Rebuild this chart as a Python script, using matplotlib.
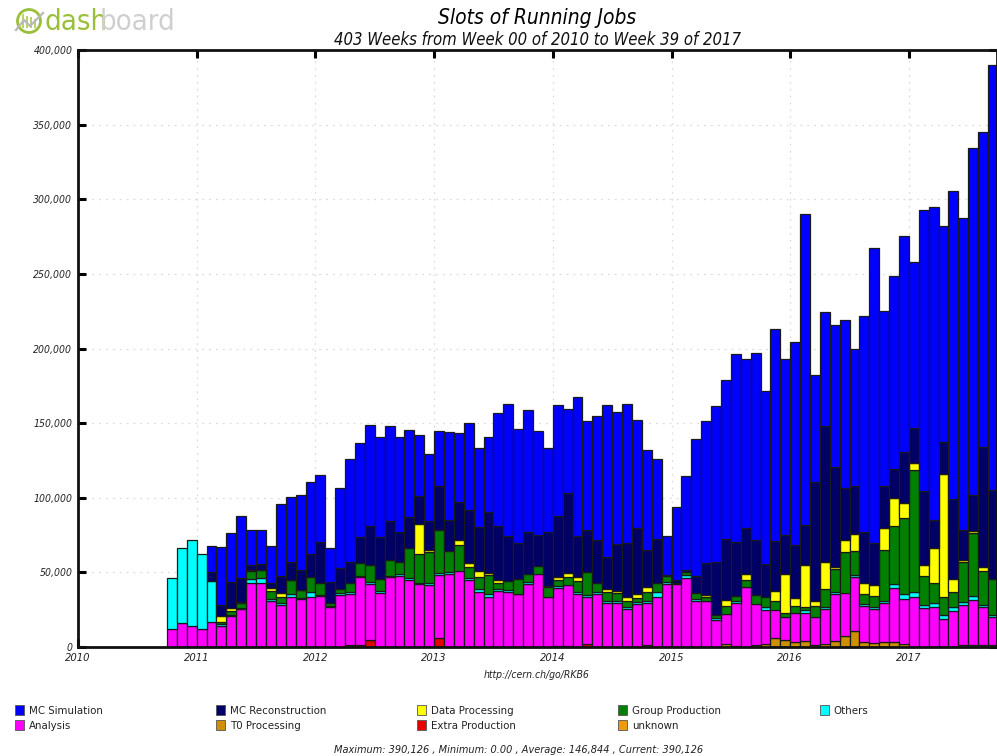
import numpy as np
import matplotlib
matplotlib.use("Agg")
import matplotlib.pyplot as plt
from matplotlib.patches import Patch, Circle, Rectangle

K = 1000.0
first_year = 2010.75
n_bars = 84

sim = [0,0,0,0,17.9,39.3,33.3,41.5,23.7,23,25,48.2,43.6,50.2,48.2,45.4,23.2,53.6,69.5,63.4,67.7,67.4,63.9,63.5,58.1,40.9,45.1,36.7,58.7,46.3,58.5,52.9,50.1,75.9,88.2,76.6,82.2,69.9,56.1,74.1,56.8,93.6,73,83.3,101.9,88.7,93.1,72.2,67.4,54.1,25.7,48.9,63.5,92.1,95.2,104.3,106.2,125.9,113.2,125.5,115.7,142,117.7,136,208.8,71.7,76.2,95.3,112.6,92.3,144.2,198.2,117,129.8,144.5,111.3,188.1,209.7,144.2,206.4,209,232.5,210.8,285]
reco = [0,0,0,0,5.8,6.9,17.2,16.1,3.6,4.2,3.2,11.8,11.7,13.1,15.2,27,13.6,13.8,13.6,17.5,26.6,28.2,26.1,20.1,20.8,18.3,19.6,29.8,20.6,25.2,35.7,29.3,40.8,36.4,30.2,24.2,27.9,21,35.9,41.1,53.5,27.2,28.2,28.8,21.1,31.5,35.8,44.4,24.7,29,1.1,1.8,1.1,11.2,21.2,35.3,41.2,35.8,31.4,36.8,22.3,33.5,26.1,35.1,26.8,79.3,91.3,67,34.8,32.1,34.2,27.6,28.4,19.2,34.7,23.4,49.8,19,21.9,53.6,20.1,23.7,80.6,59.4]
data_proc = [0,0,0,0,0,4.5,1.8,.2,.2,.1,2,2.7,.1,.1,0,0,0,0,0,0,0,0,0,0,0,20.5,1.4,0,0,3.4,2.7,4.2,1.1,2,0,0,0,0,1.1,2,2.7,2.9,0,0,2.3,1.3,3.1,2.3,3.6,0,0,0,0,0,1.6,0,3.8,0,4,0,0,6.7,26.3,5.3,27.7,3.3,17.6,1.4,8.5,11.4,7.6,7.6,14.9,19,9.8,4.7,6.9,23,82.4,8.5,1.6,1.8,2.7,0]
group = [0,0,0,0,0,1.1,2.9,3.8,5.6,5.2,5.3,3.8,9.6,5.2,10.3,8.5,2.5,2.9,6.1,8.5,11.2,7.6,10.8,7.8,20.1,19,20.3,28.4,14,17.2,7,8.1,13.2,3.8,6,9.6,5.4,5.1,6.3,3.6,4.9,7,15.2,5.7,5.6,5.2,3.6,2.6,5.6,6.3,3.8,.5,2.2,4,2.2,2,5.1,3.6,4.2,5.6,6.5,5.8,2.7,5.1,2.2,7.4,12.1,15.2,27,15.6,6.5,7.4,33.8,38.4,51.1,82.2,19.7,13.6,11.6,10.2,26.3,42.2,22.3,23.9]
others = [34.6,50.5,57.4,50.2,27.2,1.6,.4,.4,2.4,3.1,1.2,1.4,1.6,1.1,2.9,.7,.4,1.4,1.7,.6,1.1,1.7,.6,1.3,1.7,1.1,1.8,1.6,1.4,0,1.7,1.6,2,1.6,1.6,.4,1.1,0,0,1.4,0,1.7,1.5,1.7,1.3,1.3,1.8,1.4,1.3,3.5,1.1,0,1.6,1.3,0,1.6,0,1.3,0,0,1.8,0,0,0,1.8,0,1.8,1.5,0,1.8,1.5,1.6,1.3,2.7,2.9,2.9,2.2,2.7,2.9,2.7,2,2.2,1.6,1.4]
analysis = [11.8,16,14,11.8,17,13.8,21,25.5,43.1,43.1,31,28.1,33.7,31.9,33.7,33.9,26.8,34.6,34.2,45.8,37.7,36,46.9,47.8,44.7,42,41.3,42.2,49.1,51.1,44.7,37,33.3,37.3,36.6,35.3,42.4,48.9,33.7,38.7,40.8,35.3,31.3,35.3,29.7,29.7,25.2,29,28.6,33.3,42.4,42.4,46.4,31,31,18.1,20.5,28.6,40.2,27.9,23.2,18.8,15.2,19.5,19.2,19.2,23.4,31.5,29,36.2,24.4,22.7,26.6,36.6,30.6,33.7,25.9,26.8,18.8,23.9,27.3,30.6,25.7,19]
extra = [0]*18 + [1.1,1.1,4.7] + [0]*6 + [6] + [0]*11 + [1,1,0,2] + [0]*41
t0 = [0]*48 + [1.1] + [0]*7 + [1.8,.9,.2,1.1,1.8,6,4.7,3.1,3.8,1.1,1.8,3.8,7.4,10.5,3.1,2.5,3.1,3.1,1.8] + [0]*5 + [1.1,1.1,1.1,1.3]
unknown = [0]*n_bars

# bottom-to-top drawing order
series = [
    ("T0 Processing", t0, "#cc9000"),
    ("Extra Production", extra, "#e60000"),
    ("unknown", unknown, "#f09a10"),
    ("Analysis", analysis, "#ff00ff"),
    ("Others", others, "#00ffff"),
    ("Group Production", group, "#008000"),
    ("Data Processing", data_proc, "#ffff00"),
    ("MC Reconstruction", reco, "#000066"),
    ("MC Simulation", sim, "#0000ff"),
]
colors = {name: c for name, _, c in series}

legend_cols = [
    ["MC Simulation", "Analysis"],
    ["MC Reconstruction", "T0 Processing"],
    ["Data Processing", "Extra Production"],
    ["Group Production", "unknown"],
    ["Others"],
]
legend_x_px = [15, 216, 417, 618, 820]

year_ticks = list(range(2010, 2018))
y_ticks = list(range(0, 400001, 50000))

W, H = 997, 756
fig = plt.figure(figsize=(W / 100, H / 100), dpi=100, facecolor="white")
ax = fig.add_axes([78 / W, (H - 647) / H, 919 / W, 597 / H])

font = dict(family="DejaVu Sans", style="oblique", stretch="condensed")

x = first_year + np.arange(n_bars) / 12
width = 1 / 12
bottom = np.zeros(n_bars)
for name, vals, col in series:
    v = np.asarray(vals, dtype=float) * K
    assert len(v) == n_bars, name
    m = v > 0
    if m.any():
        ax.bar(x[m], v[m], width=width, bottom=bottom[m], align="edge", color=col,
               edgecolor="#1a1a1a", linewidth=0.9, zorder=3)
    bottom += v

ax.set_xlim(2010, 2010 + 919 / 118.7)
ax.set_ylim(0, 400000)
ax.set_xticks(year_ticks)
ax.set_xticklabels([str(y) for y in year_ticks], fontsize=8, color="#222222", **font)
ax.set_yticks(y_ticks)
ax.set_yticklabels([f"{y:,}" for y in y_ticks], fontsize=7.5, color="#222222", **font)
ax.tick_params(axis="both", which="major", direction="in", length=6, width=2.2,
               top=True, right=True, color="black", pad=4, zorder=5)
ax.grid(True, linestyle=(0, (1.5, 4)), color="#dddddd", linewidth=0.9, zorder=0)
ax.set_axisbelow(False)
for g in ax.get_xgridlines() + ax.get_ygridlines():
    g.set_zorder(0.5)
for s in ax.spines.values():
    s.set_linewidth(2.0)
    s.set_color("#111111")
    s.set_zorder(6)

def px(xp, yp):
    return xp / W, 1 - yp / H

fig.text(*px(537, 18), "Slots of Running Jobs", ha="center", va="center", fontsize=15, color="black",
         family="DejaVu Sans", style="oblique", stretch="condensed")
fig.text(*px(537, 40), "403 Weeks from Week 00 of 2010 to Week 39 of 2017", ha="center", va="center",
         fontsize=12, color="#111111", **font)
fig.text(*px(537, 675), "http://cern.ch/go/RKB6", ha="center", va="center", fontsize=7.5, color="#222222", **font)
fig.text(*px(519, 750), "Maximum: 390,126 , Minimum: 0.00 , Average: 146,844 , Current: 390,126",
         ha="center", va="center", fontsize=7.8, color="#222222", **font)

for col_names, xp in zip(legend_cols, legend_x_px):
    handles = [Patch(facecolor=colors[n], edgecolor="#555555", linewidth=0.6) for n in col_names]
    fig.legend(handles, col_names, loc="upper left", bbox_to_anchor=px(xp, 705), frameon=False,
               fontsize=8.2, handlelength=0.8, handleheight=0.95, handletextpad=0.4, labelspacing=0.36,
               borderpad=0, borderaxespad=0, prop=dict(family="DejaVu Sans", stretch="condensed", size=8.2),
               labelcolor="#222222")

# dashboard logo
logo = fig.add_axes([0, 0, 1, 1], zorder=-1)
logo.set_xlim(0, W)
logo.set_ylim(H, 0)
logo.axis("off")
logo.add_patch(Circle((29, 21), 11.5, fill=False, edgecolor="#9abf3a", linewidth=2))
for bx, bh in zip([23, 27, 31, 35], ["|"] * 4):
    logo.add_patch(Rectangle((bx - 1, 14 + (bx - 23) * 0.4), 2, 14 - (bx - 23) * 0.4, color="#b5d46a", linewidth=0))
logo.plot([16, 24, 30, 43], [30, 20, 26, 13], color="#b8b8b8", linewidth=1.6)
logo.text(44, 22, "dash", fontsize=21, color="#9abf3a", family="DejaVu Sans", ha="left", va="center", stretch="condensed")
logo.text(100, 22, "board", fontsize=21, color="#cfcfcf", family="DejaVu Sans", ha="left", va="center", stretch="condensed")

fig.savefig("out.png", dpi=100, facecolor="white")
